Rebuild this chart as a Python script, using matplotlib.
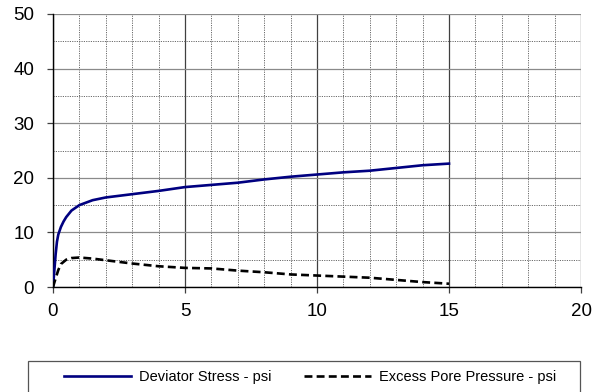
import matplotlib
matplotlib.use("Agg")
import matplotlib.pyplot as plt
from matplotlib.patches import Rectangle
from matplotlib.ticker import MultipleLocator

plt.rcParams['font.family'] = ['Liberation Sans', 'DejaVu Sans']

# Strain (%) and measured responses
strain_dev = [0, 0.05, 0.1, 0.15, 0.2, 0.3, 0.4, 0.5, 0.7, 1.0, 1.5, 2, 3, 4, 5,
              6, 7, 8, 9, 10, 11, 12, 13, 14, 15]
deviator_stress = [0, 3.0, 6.0, 8.3, 9.6, 11.0, 12.0, 12.8, 14.0, 15.0, 15.9, 16.4,
                   17.0, 17.6, 18.3, 18.7, 19.1, 19.7, 20.2, 20.6, 21.0, 21.3,
                   21.8, 22.3, 22.6]

strain_pore = [0, 0.1, 0.2, 0.3, 0.5, 0.7, 1.0, 1.5, 2, 3, 4, 5, 6, 7, 8, 9, 10,
               11, 12, 13, 14, 15]
pore_pressure = [0, 1.6, 3.1, 4.2, 5.0, 5.3, 5.4, 5.2, 4.9, 4.3, 3.8, 3.5, 3.4,
                 3.0, 2.7, 2.3, 2.1, 1.9, 1.7, 1.3, 0.9, 0.6]

labels = ["Deviator Stress - psi", "Excess Pore Pressure - psi"]

W, H = 595, 392
fig = plt.figure(figsize=(W / 100, H / 100), dpi=100)
ax = fig.add_axes([53 / W, 1 - 287 / H, (581 - 53) / W, (287 - 14) / H])

ax.plot(strain_dev, deviator_stress, color='#000080', lw=1.9, label=labels[0],
        zorder=3, solid_joinstyle='round')
ax.plot(strain_pore, pore_pressure, color='black', lw=1.9, ls=(0, (3, 1.6)),
        label=labels[1], zorder=3)

ax.set_xlim(0, 20)
ax.set_ylim(0, 50)
ax.xaxis.set_major_locator(MultipleLocator(5))
ax.xaxis.set_minor_locator(MultipleLocator(1))
ax.yaxis.set_major_locator(MultipleLocator(10))
ax.yaxis.set_minor_locator(MultipleLocator(5))

ax.grid(which='major', axis='x', color='#404040', lw=0.9, ls='-')
ax.grid(which='major', axis='y', color='#8a8a8a', lw=0.9, ls='-')
ax.grid(which='minor', axis='both', color='#6a6a6a', lw=0.7, ls=(0, (1.2, 1.2)))
ax.set_axisbelow(True)

for s in ('top', 'right'):
    ax.spines[s].set_visible(False)
for s in ('left', 'bottom'):
    ax.spines[s].set_color('black')
    ax.spines[s].set_linewidth(1.0)

ax.tick_params(axis='both', which='major', labelsize=13.5, direction='out',
               length=4.5, width=0.9, color='#404040')
ax.tick_params(axis='y', which='major', pad=9)
ax.tick_params(axis='x', which='major', pad=7)
ax.tick_params(which='minor', length=0)

# legend box running off the bottom edge of the figure
fig.patches.append(Rectangle((28 / W, 1 - 420 / H), (580 - 28) / W, (420 - 361) / H,
                             transform=fig.transFigure, fill=False,
                             edgecolor='#555555', lw=0.9))
leg = fig.legend(loc='center', bbox_to_anchor=(310 / W, 1 - 377 / H),
                 ncol=2, frameon=False, fontsize=10.5, handlelength=4.6,
                 handletextpad=0.55, borderaxespad=0, borderpad=0,
                 columnspacing=2.25)

fig.savefig('out.png', dpi=100)
